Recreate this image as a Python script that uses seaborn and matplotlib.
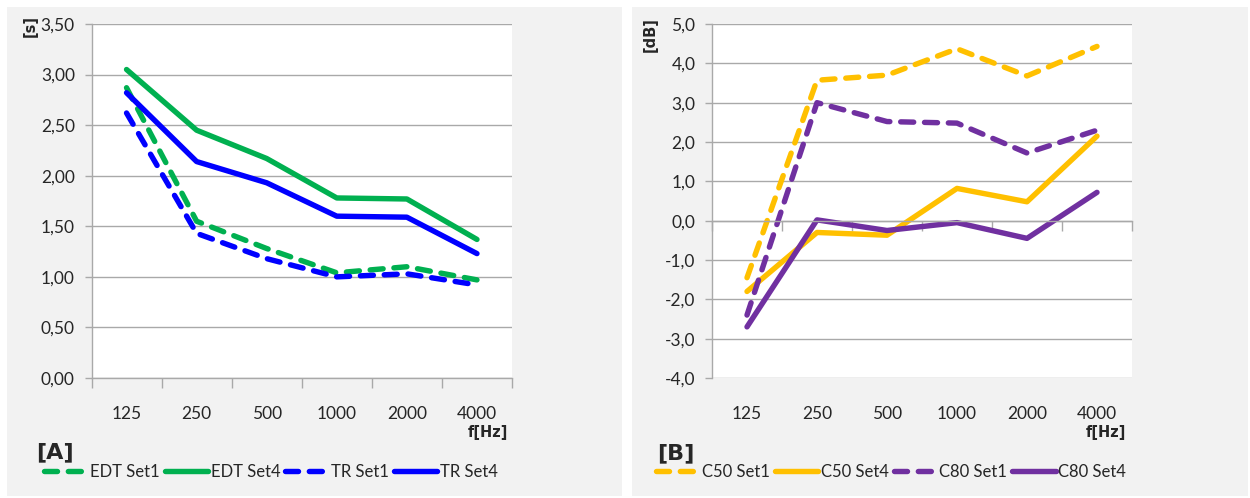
import numpy as np
import pandas as pd
import matplotlib
matplotlib.use("Agg")
import matplotlib.pyplot as plt
from matplotlib.patches import Rectangle
from matplotlib.ticker import FixedLocator, FuncFormatter
import seaborn as sns

# ---------------- data ----------------
freqs = ["125", "250", "500", "1000", "2000", "4000"]

edt_set1 = [2.87, 1.55, 1.28, 1.04, 1.10, 0.97]
edt_set4 = [3.05, 2.45, 2.17, 1.78, 1.77, 1.37]
tr_set1 = [2.62, 1.43, 1.18, 1.00, 1.03, 0.92]
tr_set4 = [2.82, 2.14, 1.93, 1.60, 1.59, 1.23]

c50_set1 = [-1.45, 3.57, 3.70, 4.37, 3.68, 4.43]
c50_set4 = [-1.80, -0.30, -0.37, 0.82, 0.48, 2.15]
c80_set1 = [-2.40, 3.00, 2.52, 2.48, 1.72, 2.30]
c80_set4 = [-2.70, 0.02, -0.25, -0.05, -0.45, 0.72]

left_ticks = [0.0, 0.5, 1.0, 1.5, 2.0, 2.5, 3.0, 3.5]
right_ticks = [-4, -3, -2, -1, 0, 1, 2, 3, 4, 5]

# ---------------- style ----------------
sns.set_theme(style="white")
plt.rcParams["font.family"] = ["Lato", "DejaVu Sans"]
BOLD_FAMILY = ["DejaVu Sans"]

W, H = 1250, 498
fig = plt.figure(figsize=(W / 100, H / 100), dpi=100)
fig.patch.set_facecolor("white")

BG = "#F2F2F2"
GRID = "#A9A9A9"
TXT = "#262626"
fig.patches.append(Rectangle((7 / W, 2 / H), 615 / W, 489 / H, transform=fig.transFigure,
                             facecolor=BG, edgecolor="none", zorder=-10))
fig.patches.append(Rectangle((632 / W, 2 / H), 616 / W, 489 / H, transform=fig.transFigure,
                             facecolor=BG, edgecolor="none", zorder=-10))

GREEN = "#00B050"
BLUE = "#0000FF"
YELLOW = "#FFC000"
PURPLE = "#7030A0"

LW = 3.9
DASH = (0, (2.4, 2.0))


def fx(px):
    return px / W


def fy(py):
    return 1 - py / H


axL = fig.add_axes([fx(91.5), fy(378), fx(512) - fx(91.5), fy(24) - fy(378)])
axR = fig.add_axes([fx(712), fy(378), fx(1132) - fx(712), fy(24) - fy(378)])

pos = np.arange(len(freqs))


def draw(ax, vals, color, dashed, label):
    df = pd.DataFrame({"f": pos, "v": vals})
    kw = dict(linestyle=DASH, dash_capstyle="round") if dashed else dict(linestyle="-", solid_capstyle="round")
    sns.lineplot(data=df, x="f", y="v", ax=ax, color=color, lw=LW, label=label,
                 solid_joinstyle="round", dash_joinstyle="round", **kw)


draw(axL, edt_set1, GREEN, True, "EDT Set1")
draw(axL, edt_set4, GREEN, False, "EDT Set4")
draw(axL, tr_set1, BLUE, True, "TR Set1")
draw(axL, tr_set4, BLUE, False, "TR Set4")

draw(axR, c50_set1, YELLOW, True, "C50 Set1")
draw(axR, c50_set4, YELLOW, False, "C50 Set4")
draw(axR, c80_set1, PURPLE, True, "C80 Set1")
draw(axR, c80_set4, PURPLE, False, "C80 Set4")


def style_axes(ax, yticks, fmt, zero_pos):
    ax.set_facecolor("white")
    ax.set_xlim(-0.5, len(freqs) - 0.5)
    ax.set_ylim(yticks[0], yticks[-1])
    ax.set_xlabel("")
    ax.set_ylabel("")
    for s in ("top", "right"):
        ax.spines[s].set_visible(False)
    ax.spines["left"].set_color(GRID)
    ax.spines["left"].set_linewidth(1.0)
    ax.spines["bottom"].set_color(GRID)
    ax.spines["bottom"].set_linewidth(1.0)
    ax.spines["bottom"].set_position(("data", zero_pos))
    ax.yaxis.set_major_locator(FixedLocator(yticks))
    ax.yaxis.set_major_formatter(FuncFormatter(lambda v, p: fmt.format(v).replace(".", ",")))
    ax.tick_params(axis="y", which="major", left=True, length=5, width=1, color=GRID,
                   labelsize=12.5, labelcolor=TXT, pad=7)
    ax.grid(axis="y", color=GRID, lw=1.0)
    ax.grid(axis="x", visible=False)
    # category boundary ticks (no labels)
    ax.xaxis.set_major_locator(FixedLocator(np.arange(-0.5, len(freqs), 1.0)))
    ax.xaxis.set_major_formatter(FuncFormatter(lambda v, p: ""))
    ax.tick_params(axis="x", which="major", bottom=True, length=7, width=1, color=GRID)
    # labels at bottom of the plot area
    sec = ax.secondary_xaxis("bottom")
    sec.set_xticks(pos)
    sec.set_xticklabels(freqs)
    sec.tick_params(length=0, labelsize=12.5, labelcolor=TXT, pad=20)
    sec.spines["bottom"].set_visible(False)
    if ax.get_legend():
        ax.get_legend().remove()


style_axes(axL, left_ticks, "{:.2f}", 0.0)
style_axes(axR, right_ticks, "{:.1f}", 0.0)

# legends below
for ax, cx in ((axL, 271), (axR, 891)):
    h, l = ax.get_legend_handles_labels()
    fig.legend(h, l, loc="center", bbox_to_anchor=(fx(cx), fy(472)), ncol=4,
               frameon=False, fontsize=12, handlelength=2.6, handletextpad=0.15,
               columnspacing=0.3, borderpad=0, labelcolor=TXT)

# axis unit labels and panel tags
fig.text(fx(30), fy(26), "[s]", rotation=90, ha="center", va="center",
         fontsize=10.5, fontweight="bold", color=TXT, family=BOLD_FAMILY)
fig.text(fx(650), fy(35), "[dB]", rotation=90, ha="center", va="center",
         fontsize=10.5, fontweight="bold", color=TXT, family=BOLD_FAMILY)
fig.text(fx(508), fy(432), "f[Hz]", ha="right", va="center", fontsize=10.5,
         fontweight="bold", color=TXT, family=BOLD_FAMILY)
fig.text(fx(1126), fy(432), "f[Hz]", ha="right", va="center", fontsize=10.5,
         fontweight="bold", color=TXT, family=BOLD_FAMILY)
fig.text(fx(36), fy(452), "[A]", ha="left", va="center", fontsize=16,
         fontweight="bold", color=TXT, family=BOLD_FAMILY)
fig.text(fx(657), fy(453), "[B]", ha="left", va="center", fontsize=16,
         fontweight="bold", color=TXT, family=BOLD_FAMILY)

fig.savefig("out.png", dpi=100, facecolor=fig.get_facecolor())
